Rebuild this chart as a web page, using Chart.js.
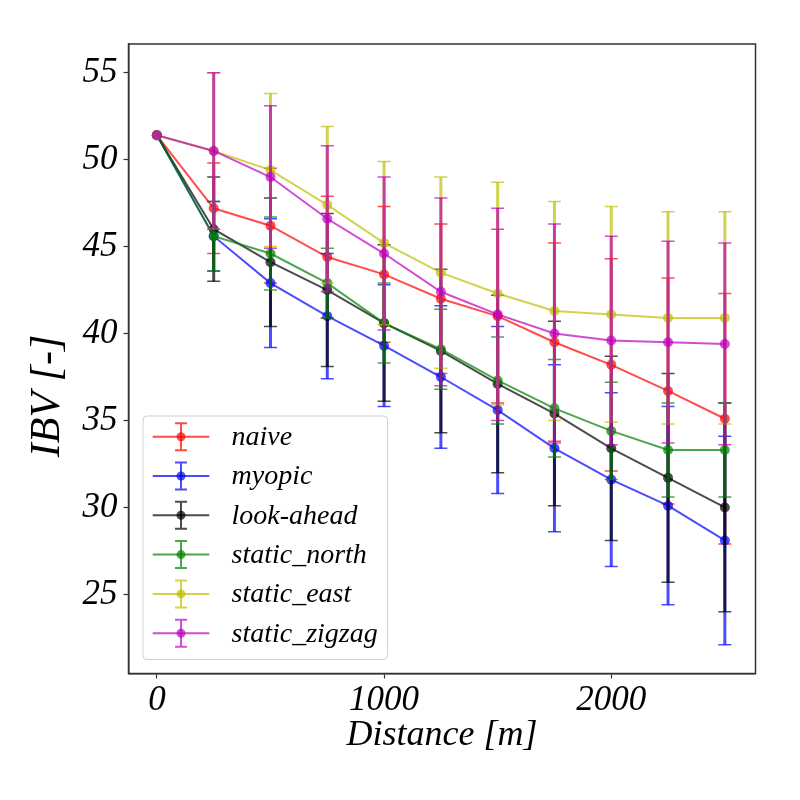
<!DOCTYPE html>
<html>
<head>
<meta charset="utf-8">
<script src="https://cdn.jsdelivr.net/npm/chart.js@4/dist/chart.umd.min.js"></script>
<style>
  body { margin: 0; background: #fff; }
  canvas { display: block; }
</style>
</head>
<body>
<canvas id="chart" width="800" height="800"></canvas>
<script>
// Data
const distance = [0, 250, 500, 750, 1000, 1250, 1500, 1750, 2000, 2250, 2500];

const naive = [51.4, 47.2, 46.2, 44.4, 43.4, 42.0, 41.0, 39.5, 38.2, 36.7, 35.1];
const naiveErr = [0, 2.6, 3.3, 3.5, 3.9, 4.3, 5.0, 5.7, 6.1, 6.5, 7.2];
const myopic = [51.4, 45.6, 42.9, 41.0, 39.3, 37.5, 35.6, 33.4, 31.6, 30.1, 28.1];
const myopicErr = [0, 2.0, 3.7, 3.6, 3.5, 4.1, 4.8, 4.8, 5.0, 5.7, 6.0];
const lookAhead = [51.4, 46.0, 44.1, 42.5, 40.6, 39.0, 37.1, 35.4, 33.4, 31.7, 30.0];
const lookAheadErr = [0, 3.0, 3.7, 4.4, 4.5, 4.7, 5.1, 5.3, 5.3, 6.0, 6.0];
const staticNorth = [51.4, 45.6, 44.6, 42.9, 40.6, 39.1, 37.3, 35.7, 34.4, 33.3, 33.3];
const staticNorthErr = [0, 2.0, 2.1, 2.0, 2.3, 2.3, 2.5, 2.8, 2.8, 2.7, 2.7];
const staticEast = [51.4, 50.5, 49.4, 47.4, 45.2, 43.5, 42.3, 41.3, 41.1, 40.9, 40.9];
const staticEastErr = [0, 4.5, 4.4, 4.5, 4.7, 5.5, 6.4, 6.3, 6.2, 6.1, 6.1];
const staticZigzag = [51.4, 50.5, 49.0, 46.6, 44.6, 42.4, 41.1, 40.0, 39.6, 39.5, 39.4];
const staticZigzagErr = [0, 4.5, 4.1, 4.2, 4.4, 5.4, 6.1, 6.3, 6.0, 5.8, 5.8];

const seriesNames = ["naive", "myopic", "look-ahead", "static_north", "static_east", "static_zigzag"];
const seriesValues = [naive, myopic, lookAhead, staticNorth, staticEast, staticZigzag];
const seriesErrors = [naiveErr, myopicErr, lookAheadErr, staticNorthErr, staticEastErr, staticZigzagErr];
const seriesColors = [
  "rgba(255,0,0,0.7)",
  "rgba(0,0,255,0.7)",
  "rgba(0,0,0,0.7)",
  "rgba(0,128,0,0.7)",
  "rgba(191,191,0,0.7)",
  "rgba(191,0,191,0.7)",
];

const xTicks = [0, 1000, 2000];
const yTicks = [25, 30, 35, 40, 45, 50, 55];
const xTitle = "Distance [m]";
const yTitle = "IBV [-]";

const SERIF = "'Liberation Serif', 'Times New Roman', serif";

// error bars drawn under each series' line and markers
const errorBars = {
  id: "errorBars",
  beforeDatasetDraw(chart, args) {
    const ds = chart.data.datasets[args.index];
    const y = chart.scales.y;
    const ctx = chart.ctx;
    ctx.save();
    ctx.strokeStyle = ds.borderColor;
    args.meta.data.forEach((pt, i) => {
      const err = ds.errors[i];
      if (!err) return;
      const v = ds.data[i].y;
      const top = y.getPixelForValue(v + err);
      const bot = y.getPixelForValue(v - err);
      ctx.lineWidth = 3;
      ctx.beginPath();
      ctx.moveTo(pt.x, top);
      ctx.lineTo(pt.x, bot);
      ctx.stroke();
      ctx.lineWidth = 1.5;
      ctx.beginPath();
      ctx.moveTo(pt.x - 6.5, top);
      ctx.lineTo(pt.x + 6.5, top);
      ctx.moveTo(pt.x - 6.5, bot);
      ctx.lineTo(pt.x + 6.5, bot);
      ctx.stroke();
    });
    ctx.restore();
  },
};

// frame, axis titles and the legend
const decorations = {
  id: "decorations",
  afterDraw(chart) {
    const ctx = chart.ctx;
    const a = chart.chartArea;
    ctx.save();
    ctx.strokeStyle = "#333";
    ctx.lineWidth = 1.5;
    ctx.strokeRect(a.left, a.top, a.right - a.left, a.bottom - a.top);

    ctx.fillStyle = "#000";
    ctx.textAlign = "center";
    ctx.textBaseline = "alphabetic";
    ctx.font = "italic 36px " + SERIF;
    ctx.fillText(xTitle, (a.left + a.right) / 2, 745);

    ctx.save();
    ctx.translate(59, 396);
    ctx.rotate(-Math.PI / 2);
    ctx.font = "italic 42px " + SERIF;
    ctx.fillText(yTitle, 0, 0);
    ctx.restore();

    // legend box
    ctx.beginPath();
    ctx.roundRect(143, 416, 244.5, 243.5, 4);
    ctx.fillStyle = "rgba(255,255,255,0.8)";
    ctx.fill();
    ctx.strokeStyle = "#d0d0d0";
    ctx.lineWidth = 1;
    ctx.stroke();

    ctx.font = "italic 28px " + SERIF;
    ctx.textAlign = "left";
    ctx.textBaseline = "middle";
    seriesNames.forEach((name, i) => {
      const cy = 436.7 + i * 39.3;
      const cx = 181;
      ctx.strokeStyle = seriesColors[i];
      ctx.fillStyle = seriesColors[i];
      ctx.lineWidth = 2;
      ctx.beginPath();
      ctx.moveTo(152.7, cy);
      ctx.lineTo(209.3, cy);
      ctx.stroke();
      ctx.beginPath();
      ctx.moveTo(cx, cy - 13.5);
      ctx.lineTo(cx, cy + 13.5);
      ctx.moveTo(cx - 6, cy - 13.5);
      ctx.lineTo(cx + 6, cy - 13.5);
      ctx.moveTo(cx - 6, cy + 13.5);
      ctx.lineTo(cx + 6, cy + 13.5);
      ctx.stroke();
      ctx.beginPath();
      ctx.arc(cx, cy, 4.5, 0, Math.PI * 2);
      ctx.fill();
      ctx.fillStyle = "#000";
      ctx.fillText(name, 231.5, cy + 1);
    });
    ctx.restore();
  },
};

const datasets = seriesNames.map((name, i) => ({
  label: name,
  data: distance.map((d, j) => ({ x: d, y: seriesValues[i][j] })),
  errors: seriesErrors[i],
  borderColor: seriesColors[i],
  backgroundColor: seriesColors[i],
  pointBackgroundColor: seriesColors[i],
  pointBorderWidth: 0,
  pointRadius: 5,
  borderWidth: 2,
  tension: 0,
  order: seriesNames.length - i,
}));

const axisGrid = {
  drawOnChartArea: false,
  drawTicks: true,
  tickLength: 5,
  tickWidth: 1.2,
  color: "#333",
};

new Chart(document.getElementById("chart"), {
  type: "line",
  data: { datasets },
  options: {
    responsive: false,
    animation: false,
    layout: { padding: { top: 44, right: 44.5, left: 0, bottom: 0 } },
    plugins: { legend: { display: false }, tooltip: { enabled: false } },
    scales: {
      x: {
        type: "linear",
        min: -125,
        max: 2635,
        afterBuildTicks: (s) => { s.ticks = xTicks.map((v) => ({ value: v })); },
        afterFit: (s) => { s.height = 126.5; },
        grid: axisGrid,
        border: { display: true, color: "#333", width: 1.5 },
        ticks: {
          color: "#000",
          padding: 1,
          maxRotation: 0,
          callback: (v) => String(v),
          font: { family: SERIF, style: "italic", size: 35 },
        },
      },
      y: {
        type: "linear",
        min: 20.45,
        max: 56.65,
        afterBuildTicks: (s) => { s.ticks = yTicks.map((v) => ({ value: v })); },
        afterFit: (s) => { s.width = 128.5; },
        grid: axisGrid,
        border: { display: true, color: "#333", width: 1.5 },
        ticks: {
          color: "#000",
          padding: 6,
          callback: (v) => String(v),
          font: { family: SERIF, style: "italic", size: 35 },
        },
      },
    },
  },
  plugins: [errorBars, decorations],
});
</script>
</body>
</html>
